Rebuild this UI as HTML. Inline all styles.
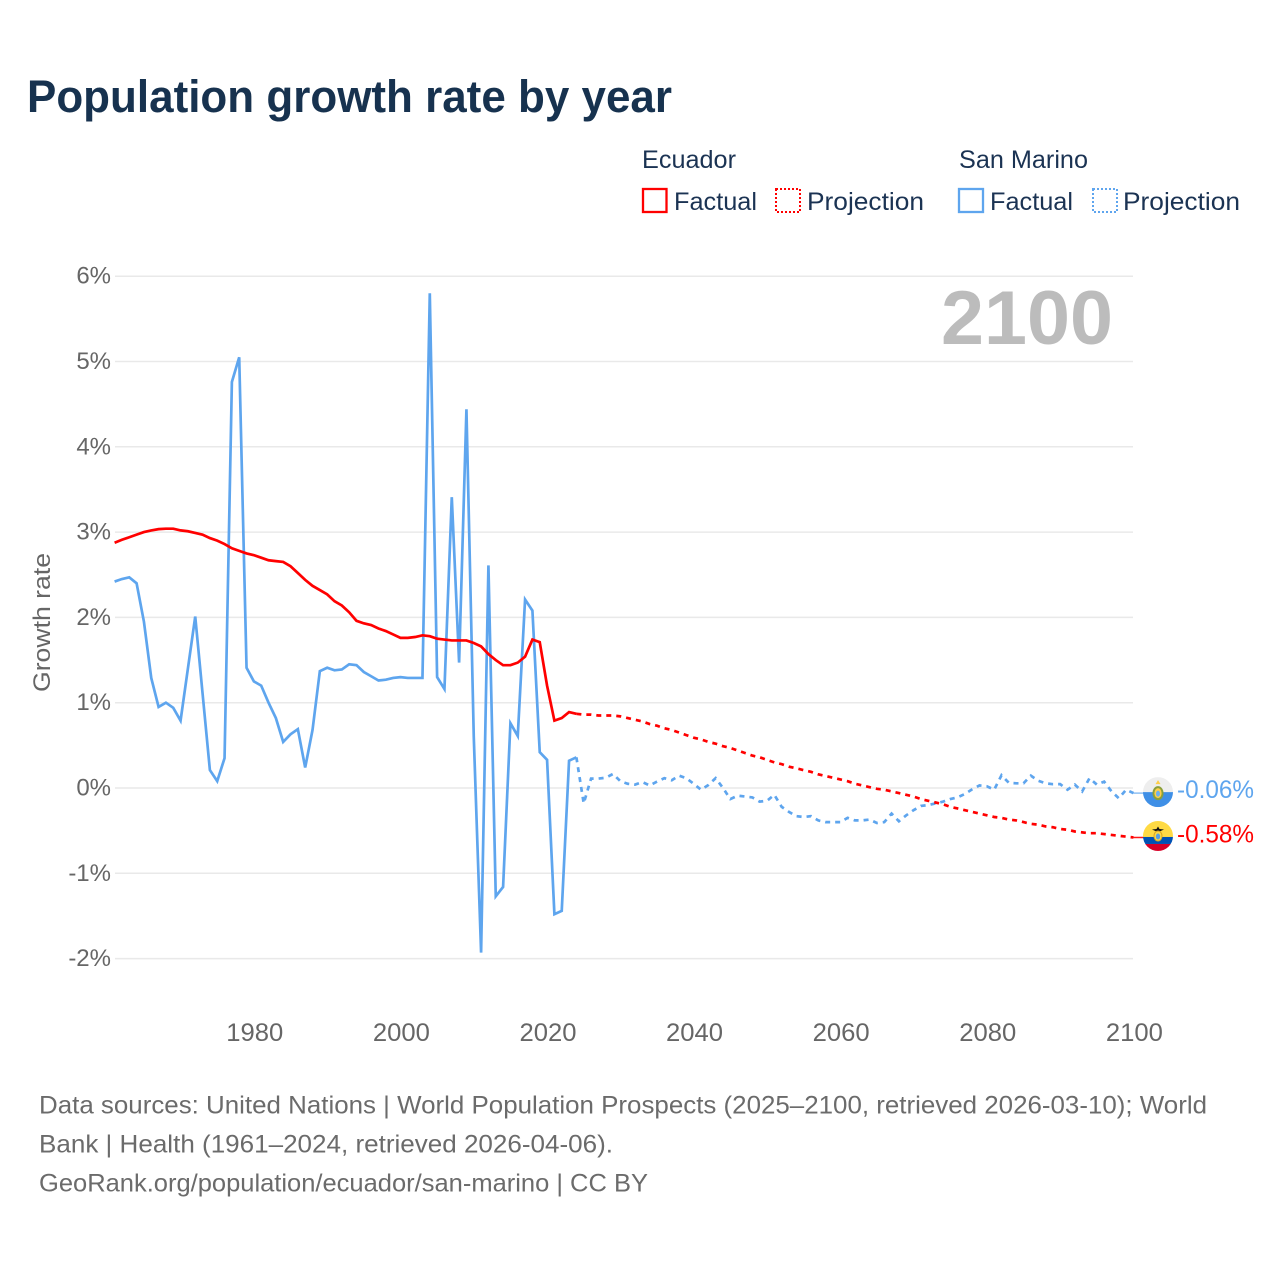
<!DOCTYPE html>
<html lang="en">
<head>
<meta charset="utf-8">
<title>Population growth rate by year</title>
<style>
html,body{margin:0;padding:0;background:#fff;width:1280px;height:1280px;overflow:hidden}
svg{display:block}
text{font-family:"Liberation Sans",sans-serif}
</style>
</head>
<body>
<svg id="chart" xmlns="http://www.w3.org/2000/svg" width="1280" height="1280" viewBox="0 0 1280 1280">
  <rect width="1280" height="1280" fill="#fff"/>
  <text x="27" y="112" font-size="45" font-weight="700" fill="#17324f" textLength="645" lengthAdjust="spacingAndGlyphs">Population growth rate by year</text>

  <g font-size="25" fill="#1b3353">
    <text x="642" y="168" textLength="94" lengthAdjust="spacingAndGlyphs">Ecuador</text>
    <text x="959" y="168" textLength="129" lengthAdjust="spacingAndGlyphs">San Marino</text>
    <rect x="643" y="189" width="23.5" height="23" fill="none" stroke="#ff0000" stroke-width="2.3"/>
    <text x="674" y="210" textLength="83" lengthAdjust="spacingAndGlyphs">Factual</text>
    <rect x="776" y="189" width="24" height="23" fill="none" stroke="#ff0000" stroke-width="2" stroke-dasharray="2 2"/>
    <text x="807" y="210" textLength="117" lengthAdjust="spacingAndGlyphs">Projection</text>
    <rect x="959" y="189" width="24" height="23" fill="none" stroke="#5ea5ee" stroke-width="2.3"/>
    <text x="990" y="210" textLength="83" lengthAdjust="spacingAndGlyphs">Factual</text>
    <rect x="1093" y="189" width="24" height="23" fill="none" stroke="#5ea5ee" stroke-width="2" stroke-dasharray="2 2"/>
    <text x="1123" y="210" textLength="117" lengthAdjust="spacingAndGlyphs">Projection</text>
  </g>

  <g id="grid"></g>
  <g id="yticks"></g>
  <g id="xticks"></g>

  <text transform="translate(50,692) rotate(-90)" font-size="24" fill="#666" textLength="139" lengthAdjust="spacingAndGlyphs">Growth rate</text>
  <text x="941" y="344" font-size="76" font-weight="700" fill="#bcbcbc" textLength="172" lengthAdjust="spacingAndGlyphs">2100</text>

  <g id="series"></g>

  <g id="flag-san-marino">
    <clipPath id="clip-sm"><circle r="15"/></clipPath>
    <g clip-path="url(#clip-sm)">
      <rect x="-15" y="-15" width="30" height="15" fill="#eeeeee"/>
      <rect x="-15" y="0" width="30" height="15" fill="#3f8fe6"/>
    </g>
    <path d="M-2.5-8 L0-12 L2.5-8 Z" fill="#ffcf4a"/>
    <ellipse cx="0" cy="1" rx="5.5" ry="7" fill="#8a9f3c"/>
    <ellipse cx="0" cy="1" rx="3.6" ry="5" fill="#ffcf4a"/>
    <ellipse cx="0" cy="1.5" rx="2" ry="3" fill="#6db0ee"/>
  </g>
  <g id="flag-ecuador">
    <clipPath id="clip-ec"><circle r="15"/></clipPath>
    <g clip-path="url(#clip-ec)">
      <rect x="-15" y="-15" width="30" height="16" fill="#ffda44"/>
      <rect x="-15" y="1" width="30" height="7" fill="#0052b4"/>
      <rect x="-15" y="8" width="30" height="7" fill="#d80027"/>
    </g>
    <path d="M-6-6.5 L-1.5-7 L0-9.5 L1.5-7 L6-6.5 L1.5-4.5 L0-3 L-1.5-4.5 Z" fill="#111"/>
    <ellipse cx="0" cy="0" rx="4" ry="5" fill="#ffda44" stroke="#d9a520" stroke-width="1"/>
    <ellipse cx="0" cy="0.5" rx="2.2" ry="3" fill="#5a9fe0"/>
  </g>
  <g id="end-labels"></g>

  <g font-size="25" fill="#6b6b6b">
    <text x="39" y="1113.5" textLength="1168" lengthAdjust="spacingAndGlyphs">Data sources: United Nations | World Population Prospects (2025–2100, retrieved 2026-03-10); World</text>
    <text x="39" y="1152.5" textLength="574" lengthAdjust="spacingAndGlyphs">Bank | Health (1961–2024, retrieved 2026-04-06).</text>
    <text x="39" y="1191.5" textLength="609" lengthAdjust="spacingAndGlyphs">GeoRank.org/population/ecuador/san-marino | CC BY</text>
  </g>
</svg>
<script>
const yTickValues = [6, 5, 4, 3, 2, 1, 0, -1, -2];
const xTickYears = [1980, 2000, 2020, 2040, 2060, 2080, 2100];
const factualStartYear = 1961;
const projectionStartYear = 2024;

const ecuadorFactual = [2.875,2.91,2.94,2.97,3.00,3.02,3.035,3.04,3.04,3.02,3.01,2.99,2.97,2.93,2.90,2.86,2.81,2.78,2.75,2.73,2.70,2.67,2.66,2.65,2.60,2.52,2.44,2.37,2.32,2.27,2.19,2.14,2.06,1.96,1.93,1.91,1.87,1.84,1.80,1.76,1.76,1.77,1.79,1.78,1.75,1.74,1.73,1.73,1.73,1.70,1.66,1.57,1.50,1.44,1.44,1.47,1.54,1.74,1.71,1.20,0.79,0.82,0.89,0.87];
const ecuadorProjection = [0.87,0.86,0.86,0.85,0.85,0.85,0.84,0.82,0.80,0.78,0.75,0.73,0.70,0.68,0.65,0.62,0.59,0.57,0.54,0.52,0.49,0.47,0.44,0.41,0.38,0.36,0.33,0.30,0.28,0.25,0.23,0.21,0.19,0.16,0.14,0.12,0.10,0.08,0.05,0.03,0.01,-0.01,-0.02,-0.04,-0.06,-0.08,-0.10,-0.13,-0.15,-0.17,-0.19,-0.22,-0.24,-0.26,-0.28,-0.30,-0.32,-0.34,-0.35,-0.37,-0.38,-0.40,-0.42,-0.43,-0.45,-0.46,-0.48,-0.49,-0.51,-0.52,-0.53,-0.53,-0.54,-0.55,-0.56,-0.57,-0.58];
const sanMarinoFactual = [2.42,2.45,2.47,2.40,1.95,1.29,0.95,1.00,0.94,0.79,1.40,2.01,1.11,0.21,0.08,0.35,4.76,5.05,1.41,1.25,1.20,1.00,0.82,0.54,0.63,0.69,0.24,0.68,1.37,1.41,1.38,1.39,1.45,1.44,1.36,1.31,1.26,1.27,1.29,1.30,1.29,1.29,1.29,5.80,1.30,1.16,3.41,1.47,4.44,0.60,-1.93,2.61,-1.27,-1.16,0.76,0.61,2.21,2.08,0.42,0.33,-1.48,-1.44,0.32,0.36];
const sanMarinoProjection = [0.36,-0.18,0.11,0.11,0.12,0.165,0.08,0.05,0.04,0.07,0.03,0.075,0.115,0.09,0.145,0.115,0.05,-0.02,0.035,0.115,0,-0.13,-0.09,-0.10,-0.11,-0.16,-0.15,-0.08,-0.22,-0.28,-0.33,-0.34,-0.33,-0.38,-0.40,-0.40,-0.40,-0.35,-0.38,-0.38,-0.37,-0.41,-0.40,-0.30,-0.39,-0.32,-0.26,-0.21,-0.20,-0.18,-0.16,-0.13,-0.11,-0.07,-0.015,0.03,0.02,-0.02,0.15,0.06,0.055,0.055,0.145,0.085,0.055,0.045,0.045,-0.02,0.04,-0.04,0.115,0.04,0.075,-0.04,-0.12,-0.02,-0.06];
const endLabels = ["-0.06%", "-0.58%"];

const NS = 'http://www.w3.org/2000/svg';
function xScale(year) { return 114.6 + (year - 1961) * 7.33; }
function yScale(v) { return 788 - v * 85.3; }

function make(tag, attrs, parent) {
  const el = document.createElementNS(NS, tag);
  Object.keys(attrs).forEach(function (k) { el.setAttribute(k, attrs[k]); });
  parent.appendChild(el);
  return el;
}
function seriesPath(values, startYear) {
  return values.map(function (v, i) {
    return (i ? 'L' : 'M') + xScale(startYear + i).toFixed(2) + ' ' + yScale(v).toFixed(2);
  }).join(' ');
}

const grid = document.getElementById('grid');
const yticks = document.getElementById('yticks');
yTickValues.forEach(function (v) {
  const line = make('line', { x1: 115, x2: 1133, y1: yScale(v), y2: yScale(v), stroke: '#e9e9e9', 'stroke-width': 1.5 }, grid);
  
  
  const label = make('text', { x: 111, y: yScale(v) + 7.5, 'text-anchor': 'end', 'font-size': 24, fill: '#666' }, yticks);
  
  
  label.textContent = v + '%';
});

const xticks = document.getElementById('xticks');
xTickYears.forEach(function (year) {
  const label = make('text', { x: xScale(year) + 0.9, y: 1041, 'text-anchor': 'middle', 'font-size': 25, fill: '#666', textLength: 57, lengthAdjust: 'spacingAndGlyphs' }, xticks);
  
  
  label.textContent = year;
});

const series = document.getElementById('series');
const blue = '#5ea5ee';
const red = '#ff0000';
const smLast = sanMarinoProjection[sanMarinoProjection.length - 1];
const ecLast = ecuadorProjection[ecuadorProjection.length - 1];

const smLeader = make('line', { x1: xScale(2100), x2: 1146, y1: yScale(smLast), y2: yScale(smLast), stroke: blue, 'stroke-width': 1.5, opacity: 0.7 }, series);


const ecLeader = make('line', { x1: xScale(2100), x2: 1146, y1: yScale(ecLast), y2: yScale(ecLast), stroke: red, 'stroke-width': 1.5, opacity: 0.9 }, series);



const smFact = make('path', { d: seriesPath(sanMarinoFactual, factualStartYear), fill: 'none', stroke: blue, 'stroke-width': 2.7, 'stroke-linejoin': 'miter' }, series);


const smProj = make('path', { d: seriesPath(sanMarinoProjection, projectionStartYear), fill: 'none', stroke: blue, 'stroke-width': 2.7, 'stroke-dasharray': '5 5' }, series);


const ecFact = make('path', { d: seriesPath(ecuadorFactual, factualStartYear), fill: 'none', stroke: red, 'stroke-width': 2.7 }, series);


const ecProj = make('path', { d: seriesPath(ecuadorProjection, projectionStartYear), fill: 'none', stroke: red, 'stroke-width': 2.7, 'stroke-dasharray': '5 5' }, series);



document.getElementById('flag-san-marino').setAttribute('transform', 'translate(1158,' + (yScale(smLast) - 1) + ')');
document.getElementById('flag-ecuador').setAttribute('transform', 'translate(1158,' + (yScale(ecLast) - 1.5) + ')');

const endGroup = document.getElementById('end-labels');
const smEnd = make('text', { x: 1177, y: yScale(smLast) + 5, 'font-size': 25, fill: blue, textLength: 77, lengthAdjust: 'spacingAndGlyphs' }, endGroup);


smEnd.textContent = endLabels[0];
const ecEnd = make('text', { x: 1177, y: yScale(ecLast) + 5, 'font-size': 25, fill: red, textLength: 77, lengthAdjust: 'spacingAndGlyphs' }, endGroup);


ecEnd.textContent = endLabels[1];
</script>
</body>
</html>
